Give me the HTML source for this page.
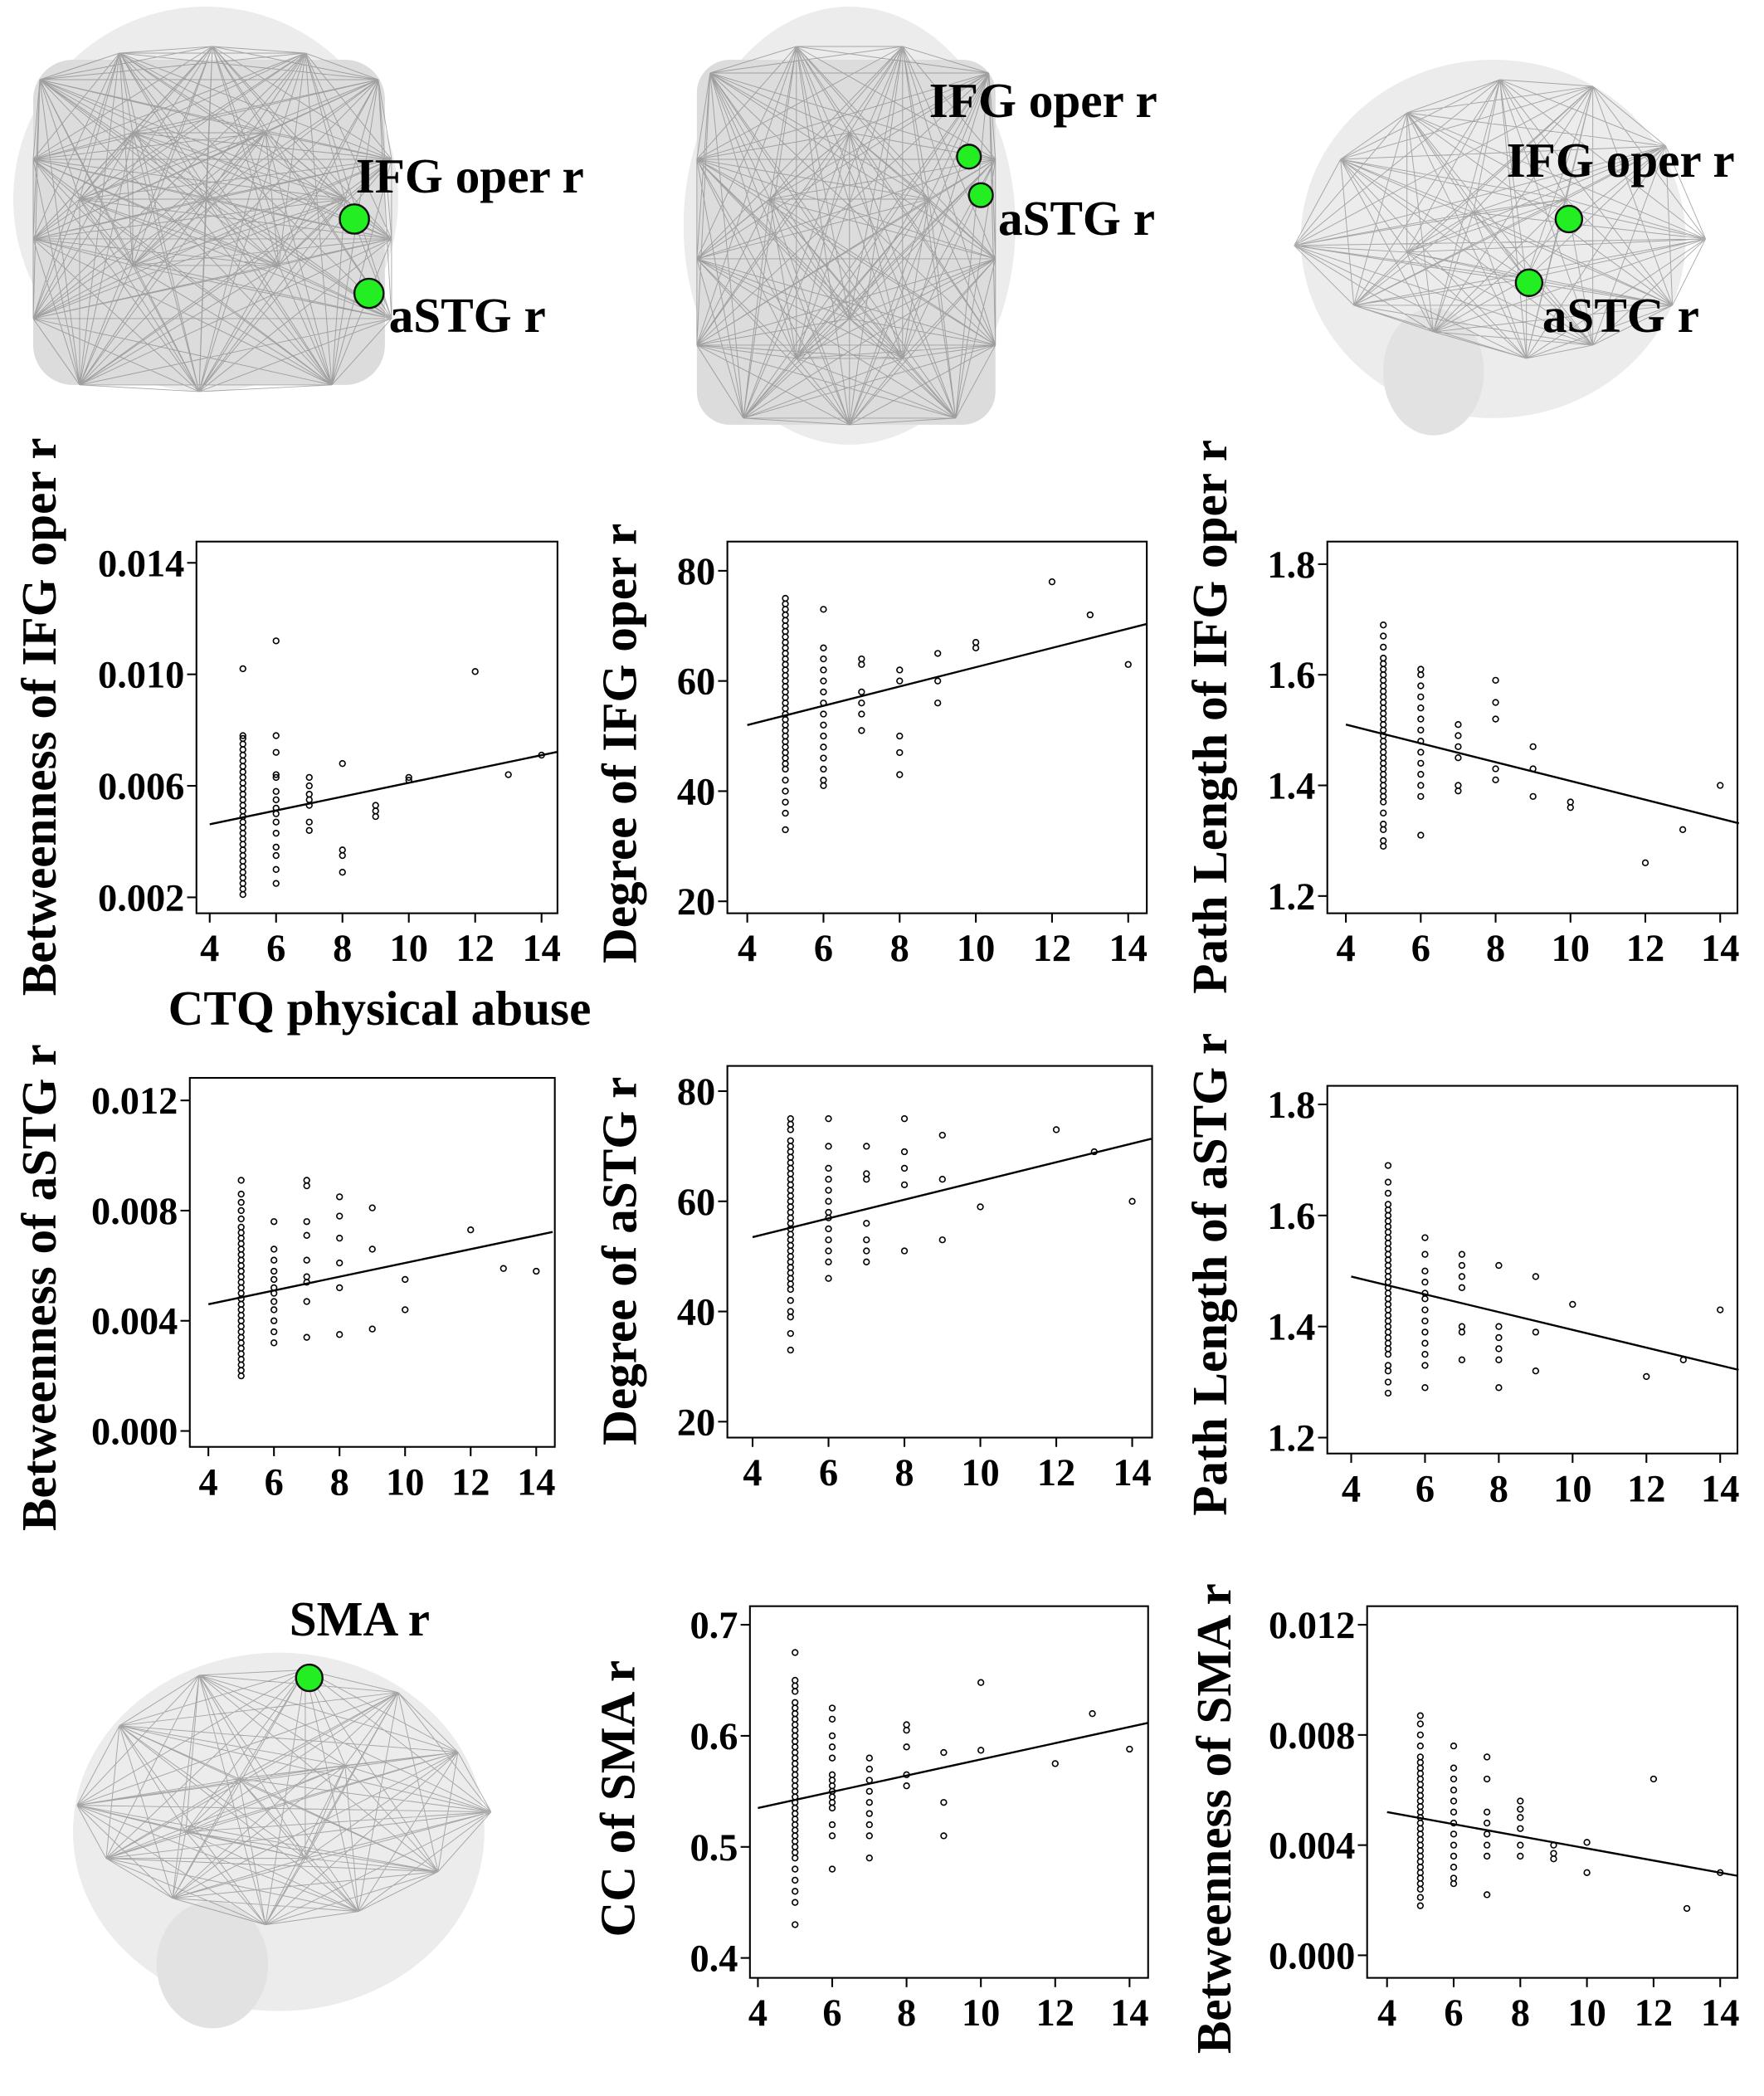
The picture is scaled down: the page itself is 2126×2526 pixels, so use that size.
<!DOCTYPE html>
<html><head><meta charset="utf-8">
<style>
html,body{margin:0;padding:0;background:#fff;}
svg{display:block;}
text{font-family:"Liberation Serif",serif;font-weight:bold;fill:#000;}
</style></head>
<body>
<svg id="fig" width="2126" height="2526" viewBox="0 0 1329 1579" preserveAspectRatio="none" xmlns="http://www.w3.org/2000/svg">
<g id="brains"></g>
<g id="plots"></g>
</svg>
<script>
// ---------- DATA ----------
const xCats = [5,6,7,8,9,10,12,13,14];
const xTicks = [4,6,8,10,12,14];

const p1Vals = [
 [0.0021,0.0023,0.0025,0.0027,0.0029,0.0031,0.0033,0.0035,0.0037,0.0039,0.0041,0.0043,0.0045,0.0047,0.0049,0.0051,0.0053,0.0055,0.0057,0.0059,0.0061,0.0063,0.0065,0.0067,0.0069,0.0071,0.0073,0.0075,0.0077,0.0078,0.0102],
 [0.0112,0.0078,0.0072,0.0064,0.0063,0.0058,0.0055,0.0052,0.0050,0.0047,0.0043,0.0038,0.0035,0.0030,0.0025],
 [0.0063,0.0060,0.0057,0.0055,0.0053,0.0047,0.0044],
 [0.0068,0.0037,0.0035,0.0029],
 [0.0053,0.0051,0.0049],
 [0.0063,0.0062],[0.0101],[0.0064],[0.0071]];
const p1Line = [0.00462,0.0071];

const p2Vals = [
 [33,36,38,40,42,44,45,46,47,48,49,50,51,52,53,54,55,56,57,58,59,60,61,62,63,64,65,66,67,68,69,70,71,72,73,74,75],
 [73,66,64,62,60,58,56,54,52,50,48,46,44,42,41],
 [64,63,58,56,54,51],[62,60,50,47,43],[65,60,56],[67,66],[78],[72],[63]];
const p2Line = [52,69.5];

const p3Vals = [
 [1.29,1.30,1.32,1.33,1.35,1.37,1.38,1.39,1.40,1.41,1.42,1.43,1.44,1.45,1.46,1.47,1.48,1.49,1.50,1.51,1.52,1.53,1.54,1.55,1.56,1.57,1.58,1.59,1.60,1.61,1.62,1.63,1.65,1.67,1.69],
 [1.61,1.60,1.58,1.56,1.54,1.52,1.50,1.48,1.46,1.44,1.42,1.40,1.38,1.31],
 [1.51,1.49,1.47,1.45,1.40,1.39],[1.59,1.55,1.52,1.43,1.41],[1.47,1.43,1.38],[1.37,1.36],[1.26],[1.32],[1.40]];
const p3Line = [1.51,1.34];

const p4Vals = [
 [0.0020,0.0022,0.0024,0.0026,0.0028,0.0030,0.0032,0.0034,0.0036,0.0038,0.0040,0.0042,0.0044,0.0046,0.0048,0.0050,0.0052,0.0054,0.0056,0.0058,0.0060,0.0062,0.0064,0.0066,0.0068,0.0070,0.0072,0.0074,0.0077,0.0080,0.0083,0.0086,0.0091],
 [0.0076,0.0066,0.0062,0.0058,0.0055,0.0052,0.0050,0.0047,0.0044,0.0040,0.0036,0.0032],
 [0.0091,0.0089,0.0076,0.0071,0.0062,0.0056,0.0054,0.0047,0.0034],
 [0.0085,0.0078,0.0070,0.0061,0.0052,0.0035],[0.0081,0.0066,0.0037],[0.0055,0.0044],[0.0073],[0.0059],[0.0058]];
const p4Line = [0.0046,0.0071];

const p5Vals = [
 [33,36,39,40,42,44,45,46,47,48,49,50,51,52,53,54,55,56,57,58,59,60,61,62,63,64,65,66,67,68,69,70,71,73,74,75],
 [75,70,66,64,62,60,58,57,55,53,51,49,46],
 [70,65,64,56,53,51,49],[75,69,66,63,51],[72,64,53],[59],[73],[69],[60]];
const p5Line = [53.5,70.5];

const p6Vals = [
 [1.28,1.30,1.32,1.33,1.35,1.36,1.37,1.38,1.39,1.40,1.41,1.42,1.43,1.44,1.45,1.46,1.47,1.48,1.49,1.50,1.51,1.52,1.53,1.54,1.55,1.56,1.57,1.58,1.59,1.60,1.61,1.62,1.64,1.66,1.69],
 [1.56,1.53,1.50,1.48,1.46,1.45,1.43,1.41,1.39,1.37,1.35,1.33,1.29],
 [1.53,1.51,1.49,1.47,1.40,1.39,1.34],[1.51,1.40,1.38,1.36,1.34,1.29],[1.49,1.39,1.32],[1.44],[1.31],[1.34],[1.43]];
const p6Line = [1.49,1.33];

const p8Vals = [
 [0.43,0.45,0.46,0.47,0.48,0.49,0.495,0.50,0.505,0.51,0.515,0.52,0.525,0.53,0.535,0.54,0.545,0.55,0.555,0.56,0.565,0.57,0.575,0.58,0.585,0.59,0.595,0.60,0.605,0.61,0.615,0.62,0.625,0.63,0.64,0.645,0.65,0.675],
 [0.625,0.615,0.60,0.59,0.58,0.565,0.56,0.555,0.55,0.545,0.54,0.535,0.52,0.51,0.48],
 [0.58,0.57,0.56,0.55,0.54,0.53,0.52,0.51,0.49],[0.61,0.605,0.59,0.565,0.555],[0.585,0.54,0.51],[0.648,0.587],[0.575],[0.62],[0.588]];
const p8Line = [0.535,0.608];

const p9Vals = [
 [0.0018,0.0021,0.0024,0.0026,0.0028,0.0030,0.0032,0.0034,0.0036,0.0038,0.0040,0.0042,0.0044,0.0046,0.0048,0.0050,0.0052,0.0054,0.0056,0.0058,0.0060,0.0062,0.0064,0.0066,0.0068,0.0070,0.0072,0.0076,0.0080,0.0084,0.0087],
 [0.0076,0.0068,0.0064,0.0060,0.0056,0.0052,0.0048,0.0044,0.0040,0.0036,0.0032,0.0028,0.0026],
 [0.0072,0.0064,0.0052,0.0048,0.0044,0.0040,0.0036,0.0022],
 [0.0056,0.0053,0.0050,0.0046,0.0040,0.0036],[0.0040,0.0037,0.0035],[0.0041,0.0030],[0.0064],[0.0017],[0.0030]];
const p9Line = [0.0052,0.0030];

const yTicks1 = ["0.002","0.006","0.010","0.014"];
const yTicks2 = ["20","40","60","80"];
const yTicks3 = ["1.2","1.4","1.6","1.8"];
const yTicks4 = ["0.000","0.004","0.008","0.012"];
const yTicks8 = ["0.4","0.5","0.6","0.7"];

// ---------- LAYOUT ----------
const NS = "http://www.w3.org/2000/svg";
function el(tag, attrs, parent){ const e=document.createElementNS(NS,tag); for(const k in attrs) e.setAttribute(k,attrs[k]); parent.appendChild(e); return e; }

const panels = [
 {id:"betweenness-ifg", vals:p1Vals, line:p1Line, ticks:yTicks1, box:[148,408,420,688], y0:676, y1:424, x0:158, x1:408, lab:"Betweenness of IFG oper r", lx:30, ly:540, xl:"CTQ physical abuse"},
 {id:"degree-ifg", vals:p2Vals, line:p2Line, ticks:yTicks2, box:[548,408,864,688], y0:679, y1:430, x0:563, x1:850, lab:"Degree of IFG oper r", lx:467, ly:560},
 {id:"pathlength-ifg", vals:p3Vals, line:p3Line, ticks:yTicks3, box:[1000,408,1309,688], y0:675, y1:425, x0:1014, x1:1296, lab:"Path Length of IFG oper r", lx:912, ly:540},
 {id:"betweenness-astg", vals:p4Vals, line:p4Line, ticks:yTicks4, box:[143,812,418,1090], y0:1078, y1:829, x0:157, x1:404, lab:"Betweenness of aSTG r", lx:30, ly:970},
 {id:"degree-astg", vals:p5Vals, line:p5Line, ticks:yTicks2, box:[548,803,868,1083], y0:1071, y1:822, x0:567, x1:853, lab:"Degree of aSTG r", lx:467, ly:950},
 {id:"pathlength-astg", vals:p6Vals, line:p6Line, ticks:yTicks3, box:[1000,818,1309,1095], y0:1083, y1:832, x0:1018, x1:1296, lab:"Path Length of aSTG r", lx:912, ly:960},
 {id:"cc-sma", vals:p8Vals, line:p8Line, ticks:yTicks8, box:[565,1210,865,1490], y0:1475, y1:1224, x0:571, x1:851, lab:"CC of SMA r", lx:466, ly:1355},
 {id:"betweenness-sma", vals:p9Vals, line:p9Line, ticks:yTicks4, box:[1030,1210,1309,1490], y0:1473, y1:1224, x0:1045, x1:1296, lab:"Betweenness of SMA r", lx:915, ly:1370}
];

const plots = document.getElementById("plots");
panels.forEach(p=>{
  const g = el("g",{},plots);
  
  
  const vmin = parseFloat(p.ticks[0]), vmax = parseFloat(p.ticks[p.ticks.length-1]);
  const sy = v => p.y0 + (v-vmin)/(vmax-vmin)*(p.y1-p.y0);
  const sx = v => p.x0 + (v-4)/(14-4)*(p.x1-p.x0);
  const [bx0,by0,bx1,by1]=p.box;
  const fr = el("rect",{x:bx0,y:by0,width:bx1-bx0,height:by1-by0,fill:"none",stroke:"#000","stroke-width":1.3},g);
  
  
  p.ticks.forEach(t=>{
    const y = sy(parseFloat(t));
    el("line",{x1:bx0-7,x2:bx0,y1:y,y2:y,stroke:"#000","stroke-width":1.3},g);
    const tx = el("text",{x:bx0-9,y:y+10,"text-anchor":"end","font-size":29},g);
    tx.textContent=t;
    
    
  });
  xTicks.forEach(t=>{
    const x = sx(t);
    el("line",{x1:x,x2:x,y1:by1,y2:by1+7,stroke:"#000","stroke-width":1.3},g);
    const tx = el("text",{x:x,y:by1+36,"text-anchor":"middle","font-size":29},g);
    tx.textContent=t;
    
    
  });
  p.vals.forEach((arr,i)=>{
    arr.forEach(v=>{
      const c = el("circle",{cx:sx(xCats[i]),cy:sy(v),r:2.1,fill:"none",stroke:"#000","stroke-width":1},g);
      
      
    });
  });
  const ln = el("line",{x1:sx(4),x2:sx(14.5),y1:sy(p.line[0]),y2:sy(p.line[0]+(p.line[1]-p.line[0])*1.05),stroke:"#000","stroke-width":1.5},g);
  
  
  const yl = el("text",{x:p.lx,y:p.ly,"text-anchor":"middle","font-size":37,transform:`rotate(-90 ${p.lx} ${p.ly}) translate(0 12)`},g);
  yl.textContent=p.lab;
  
  
  if(p.xl){
    const xl = el("text",{x:286,y:772,"text-anchor":"middle","font-size":37},g);
    xl.textContent=p.xl;
    
    
  }
});

// ---------- BRAINS (decorative) ----------
const brains = document.getElementById("brains");
function mesh(g, pts){
  let d="";
  for(let i=0;i<pts.length;i++) for(let j=i+1;j<pts.length;j++){
    d+=`M${pts[i][0]} ${pts[i][1]}L${pts[j][0]} ${pts[j][1]}`;
  }
  el("path",{d:d,stroke:"#777","stroke-width":0.6,fill:"none",opacity:0.6},g);
}
function brain(name, shape, pts, nodes, labels){
  const g = el("g",{},brains);
  
  
  shape.forEach(s=>el(s[0],s[1],g));
  mesh(g,pts);
  nodes.forEach(n=>{
    const c=el("circle",{cx:n[0],cy:n[1],r:n[2],fill:"#22ee22",stroke:"#111","stroke-width":1.5},g);
    
    
  });
  labels.forEach(l=>{
    const t=el("text",{x:l[1],y:l[2],"font-size":37},g);
    t.textContent=l[0];
    
    
  });
}
brain("brain-coronal",
 [["ellipse",{cx:155,cy:150,rx:145,ry:145,fill:"#ececec"}],["rect",{x:25,y:45,width:265,height:245,fill:"#dcdcdc",rx:30}]],
 [[30,60],[90,40],[160,35],[230,40],[285,60],[25,120],[295,120],[25,180],[295,180],[25,240],[295,240],[60,290],[150,295],[250,290],[100,100],[200,100],[100,200],[210,200],[155,150],[60,150],[260,150]],
 [[267,165,11],[278,221,11]],
 [["IFG oper r",268,145],["aSTG r",293,250]]);
brain("brain-axial",
 [["ellipse",{cx:640,cy:170,rx:125,ry:165,fill:"#ececec"}],["rect",{x:525,y:45,width:225,height:275,fill:"#dcdcdc",rx:25}]],
 [[535,55],[600,35],[680,35],[745,55],[525,120],[750,120],[525,195],[750,195],[525,260],[750,260],[560,315],[640,320],[720,315],[580,150],[700,150],[640,100],[640,240],[600,270],[680,270]],
 [[730,118,9],[739,147,9]],
 [["IFG oper r",700,88],["aSTG r",752,177]]);
brain("brain-sagittal-top",
 [["ellipse",{cx:1125,cy:180,rx:145,ry:135,fill:"#ececec"}],["ellipse",{cx:1080,cy:280,rx:38,ry:48,fill:"#e2e2e2"}]],
 [[975,185],[1010,120],[1060,85],[1130,60],[1200,65],[1255,110],[1285,180],[1260,230],[1200,260],[1150,270],[1080,250],[1020,230],[1110,160],[1180,150],[1060,190],[1150,210]],
 [[1182,165,10],[1152,213,10]],
 [["IFG oper r",1135,133],["aSTG r",1162,250]]);
brain("brain-sagittal-sma",
 [["ellipse",{cx:210,cy:1380,rx:155,ry:135,fill:"#ececec"}],["ellipse",{cx:160,cy:1480,rx:42,ry:48,fill:"#e2e2e2"}]],
 [[58,1360],[90,1300],[150,1262],[230,1258],[300,1275],[345,1320],[370,1365],[330,1410],[270,1440],[200,1450],[130,1430],[80,1400],[180,1340],[260,1330],[140,1380],[230,1400]],
 [[233,1264,10]],
 [["SMA r",218,1232]]);
</script>
</body></html>
